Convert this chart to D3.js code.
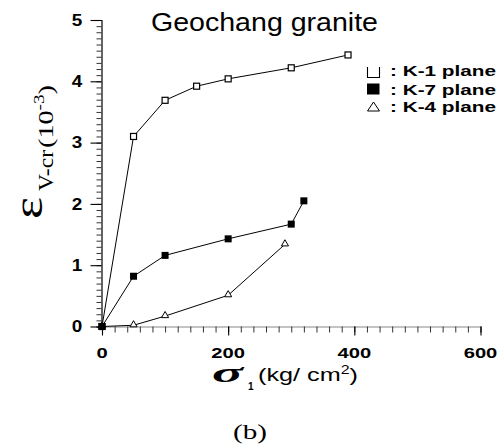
<!DOCTYPE html>
<html><head><meta charset="utf-8">
<script src="https://cdn.jsdelivr.net/npm/d3@7/dist/d3.min.js"></script>
<style>body{margin:0;background:#fff}svg{display:block}</style>
</head><body>
<script>
// Data
const k1X = [0, 50, 100, 150, 200, 300, 390];
const k1Y = [0, 3.10, 3.69, 3.92, 4.04, 4.22, 4.43];
const k7X = [0, 50, 100, 200, 300, 320];
const k7Y = [0, 0.82, 1.16, 1.43, 1.67, 2.05];
const k4X = [0, 50, 100, 200, 290];
const k4Y = [0, 0.02, 0.17, 0.51, 1.34];
const xTicks = [0, 200, 400, 600];
const yTicks = [0, 1, 2, 3, 4, 5];
const legendLabels = [": K-1 plane", ": K-7 plane", ": K-4 plane"];
const titleText = "Geochang granite";

const W = 503, H = 445;
const svg = d3.select("body").append("svg").attr("width", W).attr("height", H);

const x = d3.scaleLinear().domain([0, 600]).range([102, 480.5]);
const y = d3.scaleLinear().domain([0, 5]).range([326.5, 20]);

// Y axis
const yMinor = d3.range(0, 5.0001, 0.1).map(v => +v.toFixed(1));
const yAxis = d3.axisLeft(y).tickValues(yMinor).tickSize(5).tickFormat("");
const gy = svg.append("g").attr("transform", `translate(${x(0) - 0.5},0)`).call(yAxis);
gy.select(".domain").attr("stroke", "#000").attr("stroke-width", 1.2);
gy.selectAll(".tick line").attr("stroke", "#333");
const yMajor = d3.axisLeft(y).tickValues(yTicks).tickSize(11).tickFormat("");
const gy2 = svg.append("g").attr("transform", `translate(${x(0) - 0.5},0)`).call(yMajor);
gy2.select(".domain").remove();
gy2.selectAll(".tick line").attr("stroke", "#000").attr("stroke-width", 1.1);
svg.append("g").selectAll("text").data(yTicks).join("text")
  .attr("x", 77).attr("y", d => y(d) + 5.8)
  .attr("text-anchor", "middle")
  .attr("font-family", "Liberation Sans, Arial, sans-serif")
  .attr("font-weight", "bold").attr("font-size", 16)
  .attr("textLength", 10.5).attr("lengthAdjust", "spacingAndGlyphs")
  .text(d => d);

// X axis
const xMinor = d3.range(0, 600.001, 20);
const xAxis = d3.axisBottom(x).tickValues(xMinor).tickSize(6).tickFormat("");
const gx = svg.append("g").attr("transform", `translate(0,${y(0)})`).call(xAxis);
gx.select(".domain").attr("stroke", "#888").attr("stroke-width", 1.2);
gx.selectAll(".tick line").attr("stroke", "#333");
const xMajor = d3.axisBottom(x).tickValues(xTicks).tickSize(9).tickFormat("");
const gx2 = svg.append("g").attr("transform", `translate(0,${y(0)})`).call(xMajor);
gx2.select(".domain").remove();
gx2.selectAll(".tick line").attr("stroke", "#000").attr("stroke-width", 1.1);
svg.append("g").selectAll("text").data(xTicks).join("text")
  .attr("x", d => x(d)).attr("y", 357.5)
  .attr("text-anchor", "middle")
  .attr("font-family", "Liberation Sans, Arial, sans-serif")
  .attr("font-weight", "bold").attr("font-size", 15)
  .attr("textLength", d => String(d).length * 11.2).attr("lengthAdjust", "spacingAndGlyphs")
  .text(d => d);

// Series
const line = d3.line().x(d => x(d[0])).y(d => y(d[1]));
function series(xs, ys) { return xs.map((v, i) => [v, ys[i]]); }
const s1 = series(k1X, k1Y), s7 = series(k7X, k7Y), s4 = series(k4X, k4Y);
[s1, s7, s4].forEach(s => svg.append("path").datum(s).attr("d", line)
  .attr("fill", "none").attr("stroke", "#000").attr("stroke-width", 1));

// K-4 triangles
svg.append("g").selectAll("path").data(s4).join("path")
  .attr("d", d3.symbol().type(d3.symbolTriangle).size(22))
  .attr("transform", d => `translate(${x(d[0])},${y(d[1]) - 0.5})`)
  .attr("fill", "#fff").attr("stroke", "#000").attr("stroke-width", 1);
// K-1 open squares
svg.append("g").selectAll("rect").data(s1).join("rect")
  .attr("x", d => x(d[0]) - 3).attr("y", d => y(d[1]) - 3)
  .attr("width", 6).attr("height", 6)
  .attr("fill", "#fff").attr("stroke", "#000").attr("stroke-width", 1.2);
// K-7 filled squares
svg.append("g").selectAll("rect").data(s7).join("rect")
  .attr("x", d => x(d[0]) - 3.5).attr("y", d => y(d[1]) - 3.5)
  .attr("width", 7).attr("height", 7)
  .attr("fill", "#000");

// Title
svg.append("text").attr("x", 151).attr("y", 31)
  .attr("font-family", "Liberation Sans, Arial, sans-serif")
  .attr("font-size", 25.5).attr("textLength", 227).attr("lengthAdjust", "spacingAndGlyphs")
  .text(titleText);

// Legend
const lg = svg.append("g");
lg.append("path").attr("d", "M367.5,67 L367.5,77.5 L379.5,77.5 L379.5,67")
  .attr("fill", "none").attr("stroke", "#000").attr("stroke-width", 1.1);
lg.append("rect").attr("x", 367).attr("y", 83.5).attr("width", 12.5).attr("height", 11).attr("fill", "#000");
lg.append("path").attr("d", "M367.5,111 L379.5,111 L373.5,102 Z")
  .attr("fill", "none").attr("stroke", "#000").attr("stroke-width", 1);
const lgBase = [76, 94.5, 111.5];
lg.selectAll("text").data(legendLabels).join("text")
  .attr("x", 390).attr("y", (d, i) => lgBase[i])
  .attr("font-family", "Liberation Sans, Arial, sans-serif")
  .attr("font-weight", "bold").attr("font-size", 15)
  .attr("textLength", 106).attr("lengthAdjust", "spacingAndGlyphs")
  .text(d => d);

// Y label (rotated)
const yl = svg.append("g").attr("transform", "rotate(-90)");
yl.append("text").attr("x", -219).attr("y", 42)
  .attr("font-family", "Liberation Serif, Times New Roman, serif")
  .attr("font-size", 40).attr("textLength", 22).attr("lengthAdjust", "spacingAndGlyphs")
  .text("ε");
yl.append("text").attr("x", -191).attr("y", 53)
  .attr("font-family", "Liberation Serif, Times New Roman, serif")
  .attr("font-size", 22).attr("textLength", 41).attr("lengthAdjust", "spacingAndGlyphs")
  .text("V-cr");
const t10 = yl.append("text").attr("x", -148).attr("y", 53)
  .attr("font-family", "Liberation Serif, Times New Roman, serif")
  .attr("font-size", 22).attr("textLength", 63).attr("lengthAdjust", "spacingAndGlyphs");
t10.append("tspan").text("(10");
t10.append("tspan").attr("dy", -9).attr("font-size", 15).text("-3");
t10.append("tspan").attr("dy", 9).text(")");

// X label
svg.append("text").attr("x", 212).attr("y", 382)
  .attr("font-family", "Liberation Serif, serif").attr("font-style", "italic").attr("font-weight", "bold")
  .attr("font-size", 27).attr("textLength", 31).attr("lengthAdjust", "spacingAndGlyphs")
  .text("σ");
svg.append("text").attr("x", 248).attr("y", 390)
  .attr("font-family", "Liberation Sans, Arial, sans-serif").attr("font-weight", "bold")
  .attr("font-size", 10).text("1");
const xl = svg.append("text").attr("x", 258).attr("y", 381)
  .attr("font-family", "Liberation Sans, Arial, sans-serif")
  .attr("font-size", 19).attr("textLength", 100).attr("lengthAdjust", "spacingAndGlyphs");
xl.append("tspan").text("(kg/ cm");
xl.append("tspan").attr("dy", -7).attr("font-size", 12).text("2");
xl.append("tspan").attr("dy", 7).text(")");

// Panel caption
svg.append("text").attr("x", 233).attr("y", 439)
  .attr("font-family", "Liberation Serif, Times New Roman, serif")
  .attr("font-size", 21).attr("textLength", 34).attr("lengthAdjust", "spacingAndGlyphs")
  .text("(b)");
</script>
</body></html>
